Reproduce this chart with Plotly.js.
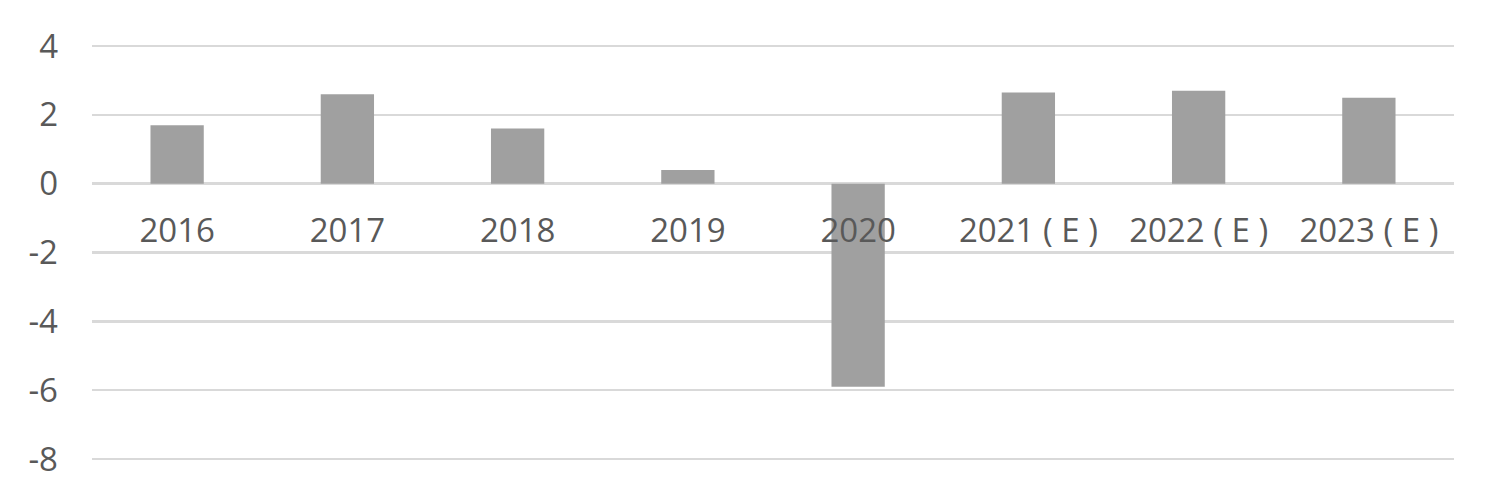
<!DOCTYPE html>
<html>
<head>
<meta charset="utf-8">
<script src="https://cdn.plot.ly/plotly-3.0.1.min.js"></script>
<style>html,body{margin:0;padding:0;background:#fff;}#chart{width:1497px;height:497px;}</style>
</head>
<body>
<div id="chart"></div>
<script>
const categories = ["2016", "2017", "2018", "2019", "2020", "2021 ( E )", "2022 ( E )", "2023 ( E )"];
const values = [1.7, 2.6, 1.6, 0.4, -5.9, 2.65, 2.7, 2.5];
const yTicks = [-8, -6, -4, -2, 0, 2, 4];
const yRange = [-8.03, 4.03];

const trace = {
  type: "bar",
  x: categories,
  y: values,
  marker: {color: "#a0a0a0"},
  hoverinfo: "none"
};

const layout = {
  width: 1497,
  height: 497,
  margin: {l: 92, r: 43, t: 45, b: 37, pad: 0},
  paper_bgcolor: "#ffffff",
  plot_bgcolor: "#ffffff",
  bargap: 0.687,
  showlegend: false,
  font: {family: "Open Sans, sans-serif", size: 33, color: "#595959"},
  xaxis: {
    type: "category",
    anchor: "free",
    position: (0 - yRange[0]) / (yRange[1] - yRange[0]),
    showgrid: false,
    showline: false,
    zeroline: false,
    ticks: "",
    ticklabelstandoff: 24,
    tickfont: {family: "Open Sans, sans-serif", size: 33, color: "#595959"}
  },
  yaxis: {
    range: yRange,
    tickvals: yTicks,
    ticktext: yTicks.map(String),
    showgrid: true,
    gridcolor: "#d9d9d9",
    gridwidth: 2.5,
    zeroline: true,
    zerolinecolor: "#d9d9d9",
    zerolinewidth: 2.5,
    showline: false,
    ticks: "",
    ticklabelstandoff: 33,
    tickfont: {family: "Open Sans, sans-serif", size: 33, color: "#595959"}
  }
};

Plotly.newPlot("chart", [trace], layout, {displayModeBar: false, staticPlot: true});
</script>
</body>
</html>
